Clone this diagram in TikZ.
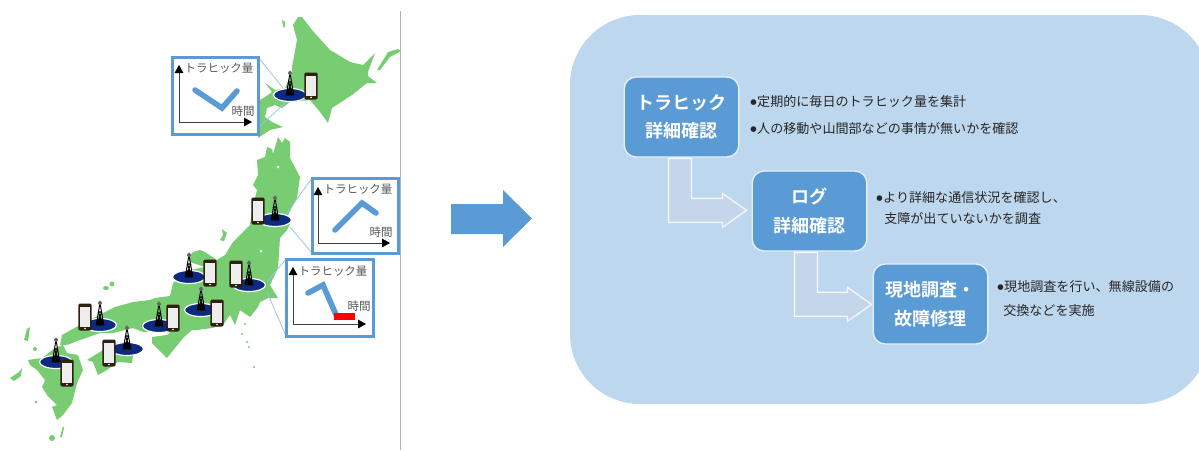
\documentclass[tikz,border=0pt]{standalone}
\usepackage{fontspec}
\setmainfont{Noto Sans CJK JP}
\newfontfamily\cjkbold{Noto Sans CJK JP Bold}
\newfontfamily\bulletfont{DejaVu Sans}
\usetikzlibrary{arrows.meta}
\definecolor{landgreen}{HTML}{78CC72}
\definecolor{blueline}{HTML}{5B9BD5}
\definecolor{panelblue}{HTML}{BDD7EE}
\definecolor{arrowfill}{HTML}{C5D5EA}
\definecolor{basenavy}{HTML}{0B2A80}
\definecolor{calloutline}{HTML}{9DC3E6}
\newcommand{\bul}{\raisebox{1.6pt}{\bulletfont\fontsize{5.5}{6}\selectfont ●}\kern.4pt}
\tikzset{
  land/.style={fill=landgreen,draw=none},
  chartbox/.style={draw=blueline,line width=2.25pt,fill=white},
  callout/.style={draw=calloutline,line width=.6pt},
  axis/.style={draw=black!75,line width=.6pt,-{Triangle[length=6pt,width=6.5pt,color=black,fill=black]}},
  trend/.style={draw=blueline,line width=4.2pt,line cap=round,line join=miter},
  charttext/.style={font=\fontsize{8.6}{10}\selectfont,text=black!65,inner sep=0pt},
  stepbox/.style={rectangle,rounded corners=9pt,fill=blueline,draw=white!85!blueline,line width=1pt,
    minimum width=86pt,minimum height=60pt,align=center,text=white,inner sep=0pt,
    font=\cjkbold\fontsize{13.5}{21.5}\selectfont},
  bentarrow/.style={fill=arrowfill,draw=white!80!arrowfill,line width=1pt,line join=miter},
  note/.style={anchor=west,inner sep=0pt,font=\fontsize{9.8}{12}\selectfont,text=black!85},
}
\begin{document}
\begin{tikzpicture}[x=.75pt,y=-.75pt]
\useasboundingbox (0,0) rectangle (1199,450);
% map
\begin{scope}
\clip (0,0) rectangle (400,450);
% Hokkaido
\fill[land] (298,17) -- (293,25) -- (297,40) -- (292,67) -- (292,73) -- (285,88) -- (275,90) -- (265,83) -- (272,92) -- (265,97) -- (260,100) -- (258,110) -- (260,125) -- (258,138) -- (270,130) -- (283,127) -- (272,122) -- (265,117) -- (267,108) -- (275,105) -- (282,108) -- (290,102) -- (310,100) -- (320,112) -- (328,123) -- (332,108) -- (352,95) -- (367,83) -- (377,83) -- (368,76) -- (368,72) -- (375,53) -- (363,65) -- (350,62) -- (330,50) -- (312,30) -- (302,17) -- cycle;
\fill[land] (377,70) -- (388,52) -- (398,49) -- (401,51) -- (390,57) -- (380,70) -- cycle;
\fill[land] (282,20) -- (285,22) -- (285,28) -- (283,26) -- cycle;
% Honshu
\fill[land] (278,137) -- (282,143) -- (285,138) -- (290,142) -- (290,158) -- (300,177) -- (297,198) -- (288,215) -- (292,220) -- (287,230) -- (280,238) -- (278,268) -- (270,285) -- (278,298) -- (268,298) -- (260,302) -- (258,307) -- (250,317) -- (240,310) -- (235,325) -- (230,315) -- (223,325) -- (212,328) -- (197,330) -- (192,330) -- (183,338) -- (167,358) -- (152,343) -- (152,337) -- (167,335) -- (173,330) -- (183,324) -- (170,332) -- (143,332) -- (133,328) -- (113,333) -- (100,333) -- (80,340) -- (67,345) -- (60,345) -- (62,335) -- (80,325) -- (115,307) -- (133,302) -- (150,300) -- (155,298) -- (170,296) -- (173,283) -- (190,270) -- (205,267) -- (217,260) -- (205,252) -- (200,250) -- (193,252) -- (188,258) -- (190,262) -- (205,267) -- (225,255) -- (233,242) -- (240,235) -- (250,225) -- (252,210) -- (257,190) -- (253,185) -- (258,175) -- (257,160) -- (265,157) -- (267,147) -- (272,149) -- (273,154) -- cycle;
\fill[white] (278,167) circle (1.5);
\fill[white] (261,251) circle (1.5);
% Shikoku
\fill[land] (87,360) -- (103,350) -- (113,353) -- (133,355) -- (132,363) -- (118,362) -- (107,370) -- (98,375) -- (93,362) -- cycle;
% Kyushu
\fill[land] (28,360) -- (42,358) -- (55,348) -- (63,345) -- (67,353) -- (78,355) -- (83,370) -- (77,383) -- (72,403) -- (63,415) -- (57,420) -- (52,407) -- (57,405) -- (47,395) -- (42,387) -- (45,380) -- (37,370) -- (30,365) -- cycle;
% islands
\fill[land] (222,229) -- (227,233) -- (224,241) -- (220,240) -- (223,235) -- cycle;
\fill[land] (112,284) circle (2.5);
\fill[land] (106,288) ellipse (3 and 2);
\fill[land] (24,340) -- (27,329) -- (30,327) -- (28,341) -- cycle;
\fill[land] (10,378) -- (19,372) -- (22,368) -- (21,376) -- (14,381) -- cycle;
\fill[land] (60,437) -- (63,426) -- (64,428) -- (62,437) -- cycle;
\fill[land] (52,438) circle (3);
\fill[land] (35,349) circle (2);
\fill[land] (36,402) circle (1.5);
\foreach \ix/\iy in {245/324,242/334,247/342,249/347,254/367}{\fill[land] (\ix,\iy) circle (1.2);}
\end{scope}
% callouts
\coordinate (aone) at (258,57); \coordinate (atwo) at (258,128);
\coordinate (sone) at (283,88); \coordinate (stwo) at (285,103);
\draw[callout] (aone) -- (sone); \draw[callout] (atwo) -- (stwo);
\coordinate (bone) at (312,178); \coordinate (btwo) at (312,253);
\coordinate (tone) at (287,213); \coordinate (ttwo) at (290,227);
\draw[callout] (bone) -- (tone); \draw[callout] (btwo) -- (ttwo);
\coordinate (cone) at (286,259); \coordinate (ctwo) at (286,336);
\coordinate (uone) at (267,282); \coordinate (utwo) at (267,292);
\draw[callout] (cone) -- (uone); \draw[callout] (ctwo) -- (utwo);
% stations
\foreach \ex/\ey/\tt/\px/\py in {290/95/72/311/86, 275/220/197/258/211, 189/277/254/210/273, 249/285/262/236/274, 201/310/288/217/313, 159/326/303/173/318, 100/325/302/85/317, 127/349/327/109/353, 56/362/339/67/373}{
  \fill[basenavy,draw=white,line width=.9pt] (\ex,\ey) ellipse (16.5 and 6.5);
  \draw[black,line width=.7pt] (\ex,\tt+1) -- (\ex-3.8,\ey) -- (\ex+3.8,\ey) -- cycle;
  \draw[black,line width=.9pt] (\ex-2.6,\ey-6) -- (\ex+2.6,\ey-6) (\ex-1.7,\ey-13) -- (\ex+1.7,\ey-13) (\ex-3,\ey) -- (\ex+1.7,\ey-13) (\ex+3,\ey) -- (\ex-1.7,\ey-13);
  \fill[black!60] (\ex,\tt+1) circle (2);
  \fill[black] (\ex,\ey-3) ellipse (3.8 and 3.4);
  \fill[black!75!brown,rounded corners=1.5pt] (\px-6.7,\py-13.5) rectangle (\px+6.7,\py+13.5);
  \fill[black!7] (\px-5.2,\py-10.5) rectangle (\px+5.2,\py+9.6);
  \fill[white] (\px,\py+11.4) circle (.9);
}
% chart 1
\draw[chartbox] (172,57) rectangle (258,134);
\coordinate (oa) at (179,122); \coordinate (ya) at (179,65); \coordinate (xa) at (252,122);
\draw[axis] (oa) -- (ya); \draw[axis] (oa) -- (xa);
\node[charttext] (qa) at (219,68) {トラヒック量};
\node[charttext] (ta) at (243,111) {時間};
\draw[trend] (195,90) -- (222,108) -- (237,91);
% chart 2
\draw[chartbox] (312,178) rectangle (398,253);
\coordinate (ob) at (318,243); \coordinate (yb) at (318,187); \coordinate (xb) at (390,243);
\draw[axis] (ob) -- (yb); \draw[axis] (ob) -- (xb);
\node[charttext] (qb) at (358,189) {トラヒック量};
\node[charttext] (tb) at (381,232) {時間};
\draw[trend] (335,230) -- (362,203) -- (376,213);
% chart 3
\draw[chartbox] (286,259) rectangle (373,336);
\coordinate (oc) at (293,324); \coordinate (yc) at (293,267); \coordinate (xc) at (366,324);
\draw[axis] (oc) -- (yc); \draw[axis] (oc) -- (xc);
\node[charttext] (qc) at (333,271) {トラヒック量};
\node[charttext] (tc) at (359,306) {時間};
\draw[trend] (308,293) -- (323,285) -- (337,317);
\fill[red] (334,313) rectangle (355,320);
% divider
\draw[black!30,line width=.6pt] (400.5,11) -- (400.5,450);
% big arrow
\fill[blueline] (451,204) -- (503,204) -- (503,190) -- (532,218.5) -- (503,247) -- (503,234) -- (451,234) -- cycle;
% panel
\begin{scope}
\clip (560,0) rectangle (1199,450);
\fill[panelblue,rounded corners=52.5pt] (570,15) rectangle (1210,404);
\end{scope}
% steps
\node[stepbox] (s1) at (681.5,117) {トラヒック\\詳細確認};
\node[stepbox] (s2) at (809.5,211) {ログ\\詳細確認};
\node[stepbox] (s3) at (930.5,304) {現地調査・\\故障修理};
\draw[bentarrow] ([shift={(45,.7)}]s1.south west) -- ++(23,0) -- ++(0,40) -- ++(31,0) -- ++(0,-5) -- ++(24,17) -- ++(-24,17) -- ++(0,-5) -- ++(-54,0) -- cycle;
\draw[bentarrow] ([shift={(43,.7)}]s2.south west) -- ++(23,0) -- ++(0,40) -- ++(30,0) -- ++(0,-5) -- ++(24,17) -- ++(-24,17) -- ++(0,-5) -- ++(-53,0) -- cycle;
% notes
\node[note] (n1) at (750,102) {\bul 定期的に毎日のトラヒック量を集計};
\node[note] (n2) at (750,129) {\bul 人の移動や山間部などの事情が無いかを確認};
\node[note] (n3) at (876,198) {\bul より詳細な通信状況を確認し、};
\node[note] (n4) at (884,219) {支障が出ていないかを調査};
\node[note] (n5) at (997,287) {\bul 現地調査を行い、無線設備の};
\node[note] (n6) at (1003,311) {交換などを実施};
\end{tikzpicture}
\end{document}
